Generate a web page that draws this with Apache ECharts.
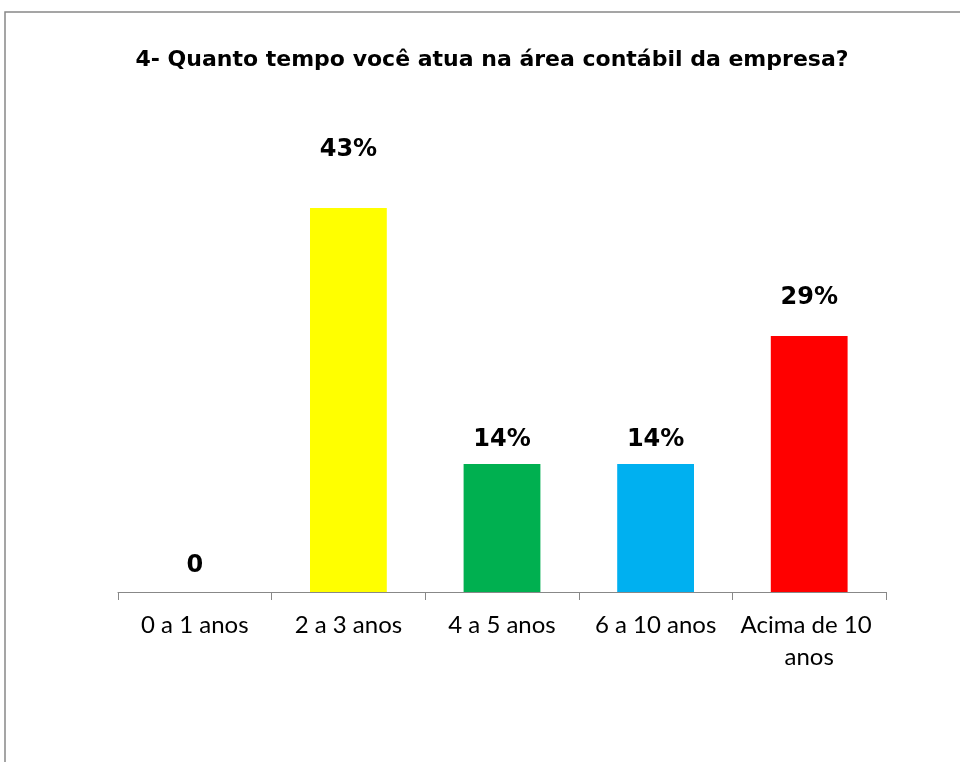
<!DOCTYPE html>
<html><head><meta charset="utf-8">
<script src="https://cdn.jsdelivr.net/npm/echarts@6/dist/echarts.min.js"></script>
<style>html,body{margin:0;padding:0;background:#fff}#c{width:960px;height:762px}</style>
</head><body><div id="c"></div>
<script>
var titleText = '4- Quanto tempo você atua na área contábil da empresa?';
var categories = ['0 a 1 anos', '2 a 3 anos', '4 a 5 anos', '6 a 10 anos', 'Acima de 10 anos'];
var values = [0, 42.86, 14.29, 14.29, 28.57];
var colors = ['#808080', '#FFFF00', '#00B050', '#00B0F0', '#FF0000'];
var labelGaps = [14, 46, 12, 12, 26];

var chart = echarts.init(document.getElementById('c'));
chart.setOption({
  animation: false,
  backgroundColor: '#fff',
  title: {
    text: titleText, left: 487, top: 44, textAlign: 'center',
    textStyle: {fontFamily: 'DejaVu Sans', fontWeight: 'bold', fontSize: 22, color: '#000'}
  },
  graphic: [{type: 'rect', shape: {x: 5, y: 12, width: 1000, height: 1000},
    style: {fill: 'none', stroke: '#888', lineWidth: 1.5}, silent: true}],
  grid: {left: 118, right: 74, top: 144, bottom: 170},
  xAxis: {
    type: 'category', data: categories,
    axisLine: {lineStyle: {color: '#888', width: 1}},
    axisTick: {show: true, length: 8, lineStyle: {color: '#888'}},
    axisLabel: {fontFamily: 'Lato', fontSize: 24, color: '#000', margin: 17,
      width: 150, overflow: 'break', lineHeight: 32, interval: 0}
  },
  yAxis: {type: 'value', min: 0, max: 50, show: false, splitLine: {show: false}},
  series: [{
    type: 'bar', barWidth: '50%',
    data: values.map(function (v, i) {
      return {value: v, itemStyle: {color: colors[i]},
        label: {distance: labelGaps[i]}};
    }),
    label: {
      show: true, position: 'top', color: '#000',
      fontFamily: 'DejaVu Sans', fontWeight: 'bold', fontSize: 24,
      formatter: function (p) { return p.value === 0 ? '0' : Math.round(p.value) + '%'; }
    }
  }]
});
</script></body></html>
